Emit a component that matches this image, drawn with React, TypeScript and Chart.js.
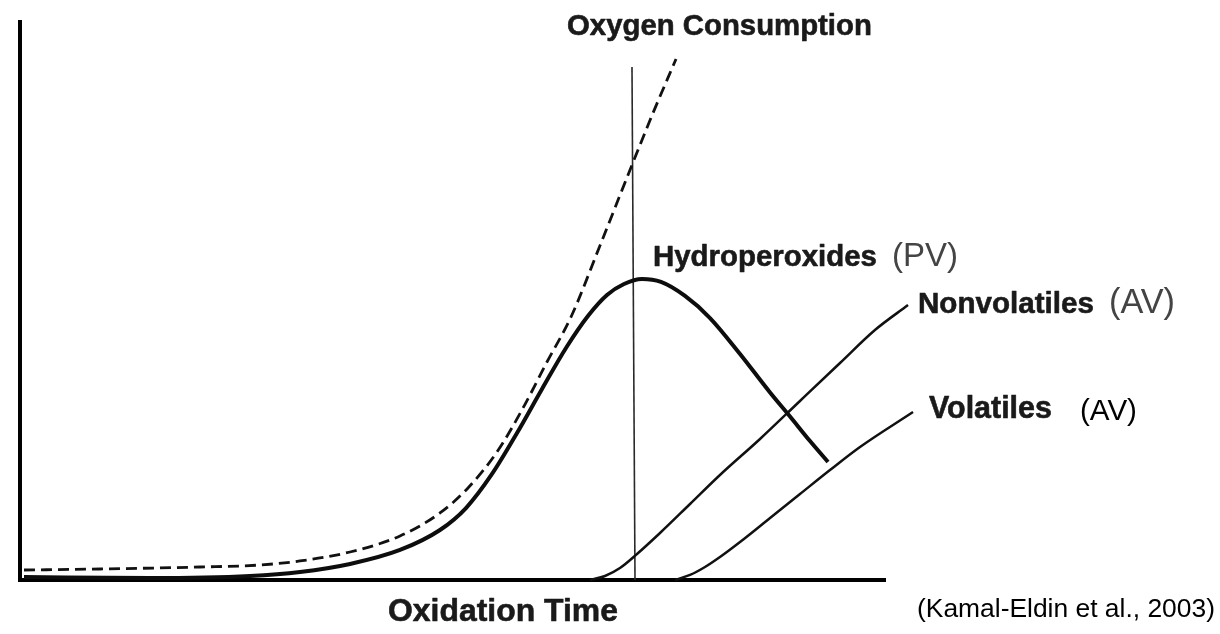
import { useEffect, useRef } from "react";
import { Chart, registerables } from "chart.js";

Chart.register(...registerables);

// Oxidation time (0–100 along drawn axis) and relative amount (0–100 of axis height)
const oxygenTime = [0.46, 9.25, 20.81, 27.75, 32.37, 38.15, 43.93, 48.55, 51.79, 55.14, 58.03, 60.92, 63.7, 66.94, 70.52, 73.18, 75.84];
const oxygenLevel = [1.79, 1.97, 2.33, 2.69, 3.41, 5.02, 7.89, 12.01, 16.49, 22.94, 30.47, 39.07, 47.13, 59.5, 73.48, 83.69, 93.37];

const hydroTime = [0.46, 15.03, 26.59, 32.37, 38.15, 43.93, 48.55, 51.56, 54.57, 57.46, 60.35, 63.12, 65.66, 67.86, 69.83, 71.91, 74.1, 76.88, 79.77, 83.24, 86.71, 89.02, 91.33, 93.41];
const hydroLevel = [0.54, 0.36, 0.72, 1.43, 2.87, 5.38, 8.96, 12.9, 19.0, 26.34, 34.23, 41.58, 47.31, 51.08, 53.05, 53.94, 53.41, 50.9, 46.95, 40.5, 33.6, 29.3, 24.9, 21.15];

const nonvolTime = [65.9, 67.63, 69.36, 71.33, 73.99, 77.46, 80.92, 85.55, 90.17, 94.8, 98.84, 102.66];
const nonvolLevel = [0, 0.72, 2.15, 4.66, 8.42, 13.62, 18.82, 25.27, 32.08, 38.89, 44.8, 49.28];

const volTime = [75.72, 77.46, 79.19, 80.92, 83.24, 86.71, 90.17, 93.64, 97.11, 103.24];
const volLevel = [0, 0.9, 2.33, 4.12, 6.81, 11.11, 15.41, 19.71, 23.84, 30.11];

const markerTime = [70.75, 71.1];
const markerLevel = [91.94, 0];

const labelOxygen = "Oxygen Consumption";
const labelHydro = "Hydroperoxides";
const labelHydroUnit = "(PV)";
const labelNonvol = "Nonvolatiles";
const labelNonvolUnit = "(AV)";
const labelVol = "Volatiles";
const labelVolUnit = "(AV)";
const axisTitle = "Oxidation Time";
const citation = "(Kamal-Eldin et al., 2003)";

const pts = (xs: number[], ys: number[]) => xs.map((x, i) => ({ x, y: ys[i] }));

const FONT = '"Liberation Sans", Arial, Helvetica, sans-serif';

function drawFit(
  ctx: CanvasRenderingContext2D,
  text: string,
  left: number,
  right: number,
  baseline: number,
  weight: string,
  color: string,
  stroke = 0
) {
  ctx.font = `${weight} 100px ${FONT}`;
  const w = ctx.measureText(text).width;
  const size = (100 * (right - left)) / w;
  ctx.font = `${weight} ${size}px ${FONT}`;
  ctx.fillStyle = color;
  ctx.textAlign = "left";
  ctx.textBaseline = "alphabetic";
  ctx.fillText(text, left, baseline);
  if (stroke > 0) {
    ctx.strokeStyle = color;
    ctx.lineWidth = stroke;
    ctx.lineJoin = "round";
    ctx.strokeText(text, left, baseline);
  }
}

const textPlugin = {
  id: "annotText",
  afterDraw(chart: any) {
    const ctx = chart.ctx as CanvasRenderingContext2D;
    ctx.save();
    drawFit(ctx, labelOxygen, 567, 872, 35, "bold", "#1a1a1a", 0.6);
    drawFit(ctx, labelHydro, 653, 877, 266, "bold", "#1a1a1a", 0.6);
    drawFit(ctx, labelHydroUnit, 892, 958, 266, "normal", "#444444");
    drawFit(ctx, labelNonvol, 918, 1094, 313, "bold", "#1a1a1a", 0.6);
    drawFit(ctx, labelNonvolUnit, 1109, 1175, 313, "normal", "#444444");
    drawFit(ctx, labelVol, 929, 1052, 418, "bold", "#1a1a1a", 0.6);
    drawFit(ctx, labelVolUnit, 1080, 1137, 420, "normal", "#000000");
    drawFit(ctx, axisTitle, 388, 618, 621, "bold", "#1a1a1a", 0.6);
    drawFit(ctx, citation, 917, 1215, 617, "normal", "#000000");
    ctx.restore();
  },
};

export default function App() {
  const ref = useRef<HTMLCanvasElement | null>(null);

  useEffect(() => {
    if (!ref.current) return;
    const chart = new Chart(ref.current, {
      type: "line",
      data: {
        datasets: [
          {
            label: "Oxygen Consumption",
            data: pts(oxygenTime, oxygenLevel),
            borderColor: "#111",
            borderWidth: 2.8,
            borderDash: [11, 6],
            pointRadius: 0,
            cubicInterpolationMode: "monotone",
            clip: false,
          },
          {
            label: "Hydroperoxides",
            data: pts(hydroTime, hydroLevel),
            borderColor: "#0d0d0d",
            borderWidth: 4,
            pointRadius: 0,
            cubicInterpolationMode: "monotone",
            clip: false,
          },
          {
            label: "Nonvolatiles",
            data: pts(nonvolTime, nonvolLevel),
            borderColor: "#111",
            borderWidth: 2.5,
            pointRadius: 0,
            cubicInterpolationMode: "monotone",
            clip: false,
          },
          {
            label: "Volatiles",
            data: pts(volTime, volLevel),
            borderColor: "#111",
            borderWidth: 2.5,
            pointRadius: 0,
            cubicInterpolationMode: "monotone",
            clip: false,
          },
          {
            label: "Marker",
            data: pts(markerTime, markerLevel),
            borderColor: "#2a2a2a",
            borderWidth: 1.6,
            pointRadius: 0,
            clip: false,
          },
        ],
      } as any,
      options: {
        animation: false,
        responsive: false,
        devicePixelRatio: 1,
        layout: { padding: { left: 20, right: 335, top: 22, bottom: 54 } },
        plugins: {
          legend: { display: false },
          tooltip: { enabled: false },
          title: { display: false },
        },
        scales: {
          x: {
            type: "linear",
            min: 0,
            max: 100,
            ticks: { display: false },
            grid: { display: false, drawTicks: false },
            border: { display: true, color: "#000", width: 4 },
          },
          y: {
            type: "linear",
            min: 0,
            max: 100,
            ticks: { display: false },
            grid: { display: false, drawTicks: false },
            border: { display: true, color: "#000", width: 4 },
          },
        },
      } as any,
      plugins: [textPlugin],
    });
    return () => chart.destroy();
  }, []);

  return (
    <div style={{ position: "absolute", left: 0, top: 0, width: 1220, height: 634, background: "#fff" }}>
      <canvas ref={ref} width={1220} height={634} />
    </div>
  );
}
